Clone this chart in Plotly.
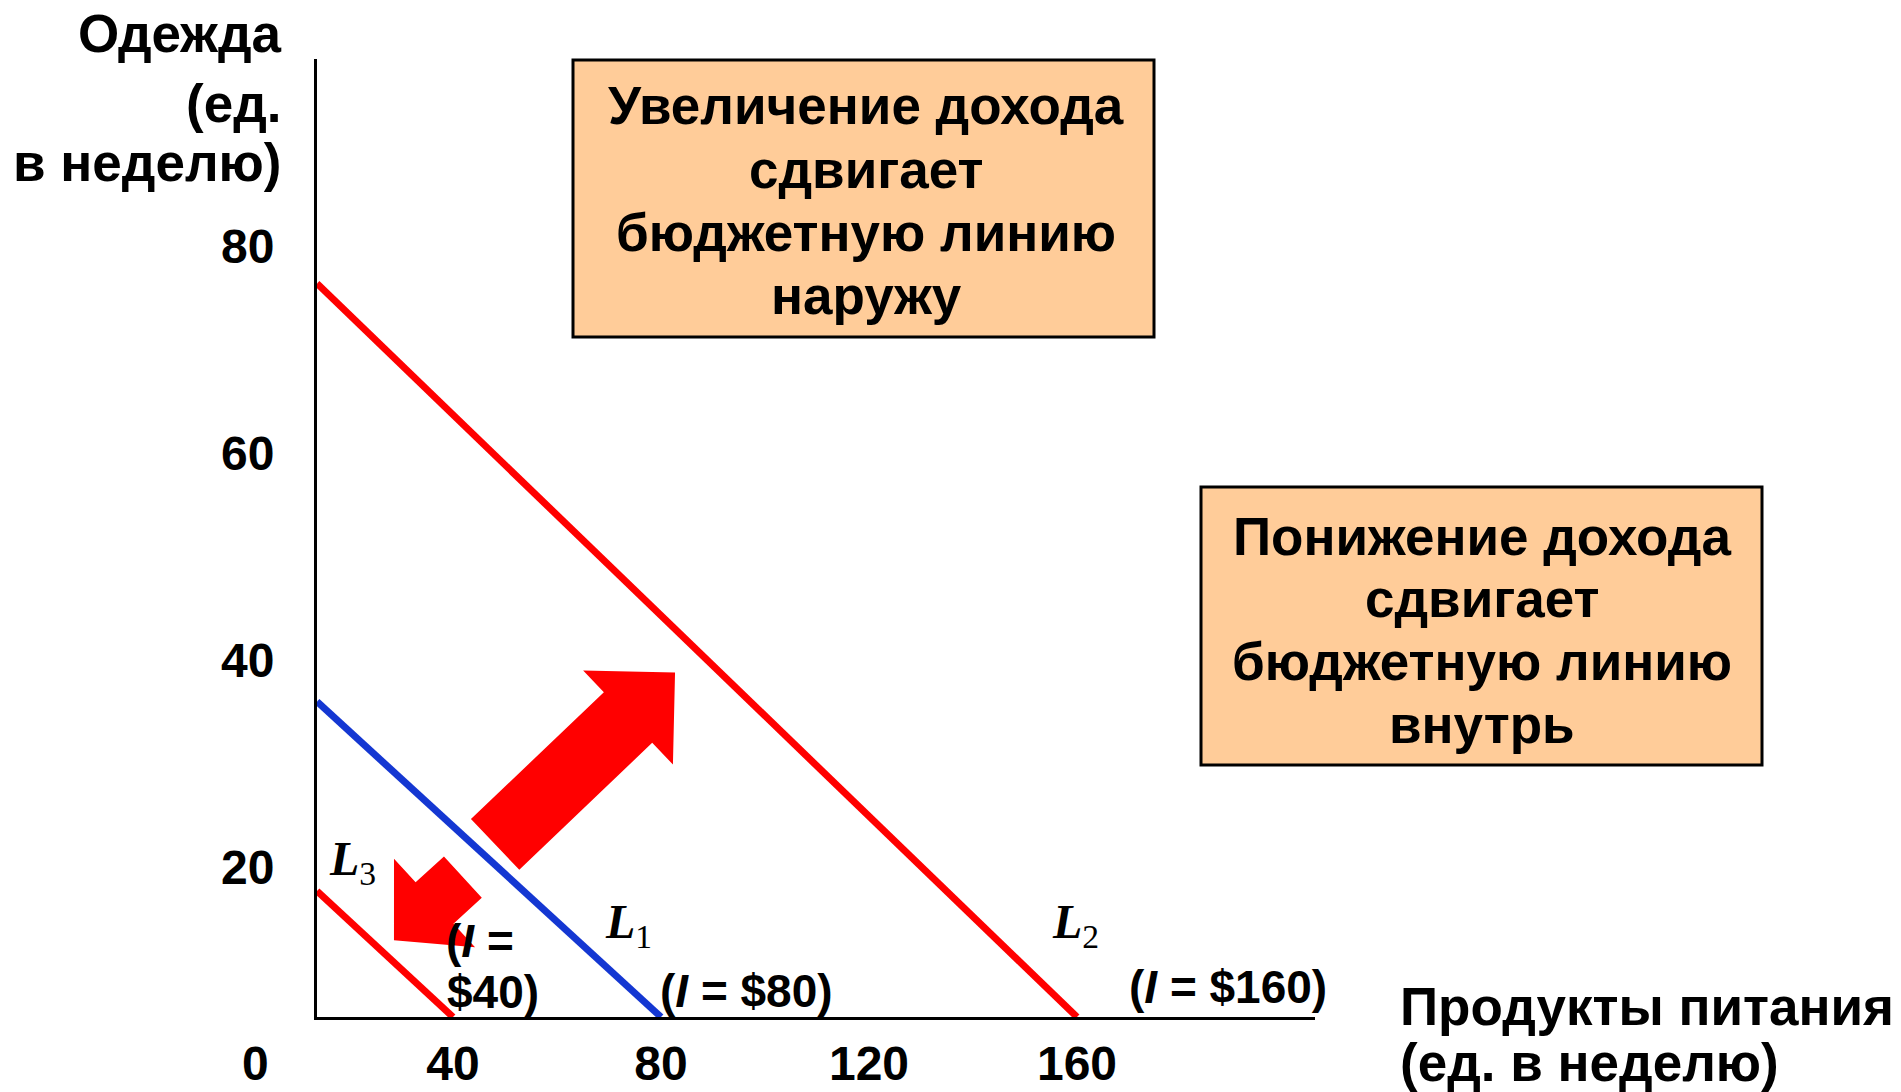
import math
import plotly.graph_objects as go

# ---------------------------------------------------------------------------
# Data: budget lines for food (x) and clothing (y), units per week
# ---------------------------------------------------------------------------
line_names = ["L1", "L2", "L3"]
incomes = [80, 160, 40]                 # weekly income, $
food_intercepts = [80, 160, 40]         # where each budget line meets the food axis
clothing_at_axis = [36.0, 76.4, 17.7]   # where each budget line meets the clothing axis

x_ticks = [40, 80, 120, 160]
y_ticks = [20, 40, 60, 80]

# shift arrows: (tail, tip) in food/clothing units
arrow_tails = [(48.1, 22.2), (41.9, 19.05)]
arrow_tips = [(82.7, 38.8), (28.65, 12.95)]

box_up_lines = ["Увеличение дохода", "сдвигает", "бюджетную линию", "наружу"]
box_down_lines = ["Понижение дохода", "сдвигает", "бюджетную линию", "внутрь"]
y_title_lines = ["Одежда", "(ед.", "в неделю)"]
x_title_lines = ["Продукты питания", "(ед. в неделю)"]

# ---------------------------------------------------------------------------
# Page geometry (pixels) and scale helpers
# ---------------------------------------------------------------------------
W, H = 1901, 1092
PLOT_L, PLOT_R, PLOT_T, PLOT_B = 317, 1315, 59, 1017
FOOD0_PX, PX_PER_FOOD = 245.0, 5.2
CLOTH0_PX, PX_PER_CLOTH = 1074.2, 10.35


def to_px(u, v):
    return FOOD0_PX + u * PX_PER_FOOD, CLOTH0_PX - v * PX_PER_CLOTH


def to_data(px, py):
    return (px - FOOD0_PX) / PX_PER_FOOD, (CLOTH0_PX - py) / PX_PER_CLOTH


def paper_x(px):
    return (px - PLOT_L) / (PLOT_R - PLOT_L)


def paper_y(py):
    return (PLOT_B - py) / (PLOT_B - PLOT_T)


x_range = [to_data(PLOT_L, 0)[0], to_data(PLOT_R, 0)[0]]
y_range = [to_data(0, PLOT_B)[1], to_data(0, PLOT_T)[1]]

SANS = "Liberation Sans, Arial, sans-serif"
SERIF = "Liberation Serif, Times New Roman, serif"
RED = "#FF0000"
BLUE = "#1437D2"
PEACH = "#FFCC99"
line_colors = {"L1": BLUE, "L2": RED, "L3": RED}

fig = go.Figure()

# budget lines
for name, fx, cy in zip(line_names, food_intercepts, clothing_at_axis):
    fig.add_trace(go.Scatter(
        x=[x_range[0], fx], y=[cy, y_range[0]],
        mode="lines", line=dict(color=line_colors[name], width=7),
        hoverinfo="skip", showlegend=False,
    ))


def arrow_path(tail, tip, shaft_hw, head_len, head_hw):
    tx, ty = to_px(*tail)
    hx, hy = to_px(*tip)
    dx, dy = hx - tx, hy - ty
    length = math.hypot(dx, dy)
    ux, uy = dx / length, dy / length
    nx, ny = -uy, ux
    bx, by = hx - ux * head_len, hy - uy * head_len
    pts = [
        (tx + nx * shaft_hw, ty + ny * shaft_hw),
        (bx + nx * shaft_hw, by + ny * shaft_hw),
        (bx + nx * head_hw, by + ny * head_hw),
        (hx, hy),
        (bx - nx * head_hw, by - ny * head_hw),
        (bx - nx * shaft_hw, by - ny * shaft_hw),
        (tx - nx * shaft_hw, ty - ny * shaft_hw),
    ]
    pts = [to_data(px, py) for px, py in pts]
    return "M " + " L ".join(f"{u:.3f},{v:.3f}" for u, v in pts) + " Z"


arrow_sizes = [(35, 65, 65), (28, 55, 60)]
shapes = []
for tail, tip, (shw, hl, hhw) in zip(arrow_tails, arrow_tips, arrow_sizes):
    shapes.append(dict(
        type="path", xref="x", yref="y", path=arrow_path(tail, tip, shw, hl, hhw),
        fillcolor=RED, line=dict(width=0), layer="above",
    ))

TEXT_FONT = dict(family=SANS, size=53, color="black", weight="bold")

# explanation boxes (pixel bounds)
boxes = [((573, 60, 1154, 337), box_up_lines, 866, [105.5, 169.7, 232.8, 295.8]),
         ((1201, 487, 1762, 765), box_down_lines, 1482, [536, 599, 661, 724])]
annotations = []
for (x0, y0, x1, y1), lines, cx, ys in boxes:
    shapes.append(dict(
        type="rect", xref="paper", yref="paper",
        x0=paper_x(x0), x1=paper_x(x1), y0=paper_y(y1), y1=paper_y(y0),
        fillcolor=PEACH, line=dict(color="black", width=3), layer="above",
    ))
    for txt, yy in zip(lines, ys):
        annotations.append(dict(
            text=txt, xref="paper", yref="paper", x=paper_x(cx), y=paper_y(yy),
            xanchor="center", yanchor="middle", showarrow=False, font=TEXT_FONT,
        ))

# axis titles
for txt, yy in zip(y_title_lines, [33, 104, 162]):
    annotations.append(dict(
        text=txt, xref="paper", yref="paper", x=paper_x(284), y=paper_y(yy),
        xanchor="right", yanchor="middle", showarrow=False, font=TEXT_FONT,
    ))
for txt, yy in zip(x_title_lines, [1006, 1062]):
    annotations.append(dict(
        text=txt, xref="paper", yref="paper", x=paper_x(1398), y=paper_y(yy),
        xanchor="left", yanchor="middle", showarrow=False, font=TEXT_FONT,
    ))

# shared origin label
annotations.append(dict(
    text="0", xref="paper", yref="paper", x=paper_x(255), y=paper_y(1063),
    xanchor="center", yanchor="middle", showarrow=False,
    font=dict(family=SANS, size=48, color="black", weight="bold"),
))

# line names
name_pos = {"L1": (73.7, 14.4), "L2": (159.8, 14.4), "L3": (20.6, 20.5)}
for name in line_names:
    u, v = name_pos[name]
    annotations.append(dict(
        text=f"<b><i>{name[0]}</i></b><sub>{name[1]}</sub>", x=u, y=v,
        xref="x", yref="y", xanchor="center", yanchor="middle", showarrow=False,
        font=dict(family=SERIF, size=48, color="black"),
    ))

# income labels
income_label_pos = {"L1": [(79.4, 8.0)], "L2": [(169.6, 8.4)], "L3": [(38.3, 12.9), (38.5, 7.9)]}
for name, inc in zip(line_names, incomes):
    pos = income_label_pos[name]
    if len(pos) == 1:
        parts = [f"(<i>I</i> = ${inc})"]
    else:
        parts = ["(<i>I</i> =", f"${inc})"]
    for txt, (u, v) in zip(parts, pos):
        annotations.append(dict(
            text=txt, x=u, y=v, xref="x", yref="y",
            xanchor="left", yanchor="middle", showarrow=False,
            font=dict(family=SANS, size=46, color="black", weight="bold"),
        ))

tick_font = dict(family=SANS, size=48, color="black", weight="bold")
fig.update_layout(
    width=W, height=H,
    margin=dict(l=PLOT_L, r=W - PLOT_R, t=PLOT_T, b=H - PLOT_B, autoexpand=False),
    paper_bgcolor="white", plot_bgcolor="white",
    showlegend=False, hovermode=False,
    shapes=shapes, annotations=annotations,
    xaxis=dict(
        range=x_range, tickvals=x_ticks, ticktext=[str(t) for t in x_ticks],
        showline=True, linecolor="black", linewidth=3, mirror=False,
        showgrid=False, zeroline=False, ticks="", tickfont=tick_font,
        ticklabelstandoff=2, automargin=False, fixedrange=True,
    ),
    yaxis=dict(
        range=y_range, tickvals=y_ticks, ticktext=[str(t) for t in y_ticks],
        showline=True, linecolor="black", linewidth=3, mirror=False,
        showgrid=False, zeroline=False, ticks="", tickfont=tick_font,
        ticklabelstandoff=30, automargin=False, fixedrange=True,
    ),
)

fig.write_html("out.html")
